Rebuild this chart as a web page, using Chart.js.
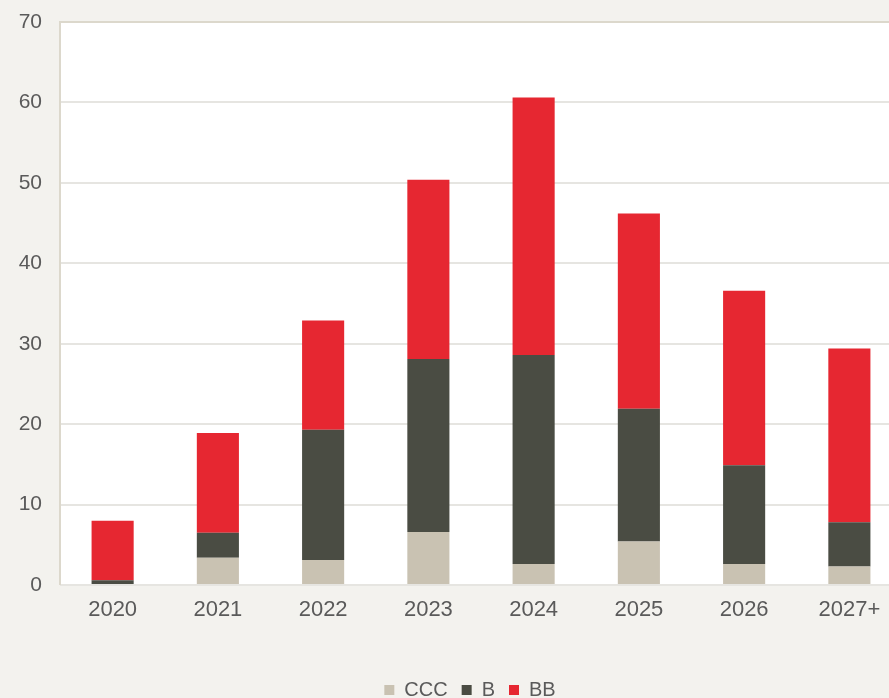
<!DOCTYPE html>
<html>
<head>
<meta charset="utf-8">
<script src="https://cdn.jsdelivr.net/npm/chart.js@4/dist/chart.umd.min.js"></script>
<style>
  html, body { margin: 0; padding: 0; background: #f3f2ee; overflow: hidden; }
  #wrap { width: 889px; height: 698px; overflow: hidden; position: relative; }
  #box { width: 940px; height: 698px; position: absolute; left: 0; top: 0; }
</style>
</head>
<body>
<div id="wrap"><div id="box"><canvas id="c"></canvas></div></div>
<script>
const categories = ['2020', '2021', '2022', '2023', '2024', '2025', '2026', '2027+'];
const cccValues = [0.0, 3.4, 3.1, 6.6, 2.6, 5.4, 2.6, 2.3];
const bValues   = [0.6, 3.1, 16.2, 21.5, 26.0, 16.5, 12.3, 5.5];
const bbValues  = [7.4, 12.4, 13.6, 22.3, 32.0, 24.3, 21.7, 21.6];
const yTicks = [0, 10, 20, 30, 40, 50, 60, 70];

const plotBg = {
  id: 'plotBg',
  afterLayout(chart) {
    const lg = chart.legend;
    if (lg) { lg.left += 19; lg.right += 19; lg.top += 12; lg.bottom += 12; }
  },
  beforeDraw(chart) {
    const { ctx, chartArea: a } = chart;
    ctx.save();
    ctx.fillStyle = '#f3f2ee';
    ctx.fillRect(0, 0, chart.width, chart.height);
    ctx.fillStyle = '#ffffff';
    ctx.fillRect(a.left, a.top, a.right - a.left, a.bottom - a.top);
    ctx.restore();
  },
  afterDatasetsDraw(chart) {
    const { ctx, chartArea: a } = chart;
    ctx.save();
    ctx.strokeStyle = '#dcd8cc';
    ctx.lineWidth = 2;
    ctx.beginPath();
    ctx.moveTo(a.left, a.bottom);
    ctx.lineTo(a.left, a.top);
    ctx.lineTo(a.right, a.top);
    ctx.stroke();
    ctx.restore();
  }
};

new Chart(document.getElementById('c'), {
  type: 'bar',
  data: {
    labels: categories,
    datasets: [
      { label: 'CCC', data: cccValues, backgroundColor: '#c9c2b2' },
      { label: 'B', data: bValues, backgroundColor: '#4a4c43' },
      { label: 'BB', data: bbValues, backgroundColor: '#e62731' }
    ]
  },
  options: {
    responsive: true,
    maintainAspectRatio: false,
    animation: false,
    layout: { padding: { left: 0, right: 38, top: 22, bottom: 0 } },
    datasets: { bar: { categoryPercentage: 1.0, barPercentage: 0.4 } },
    plugins: {
      legend: {
        position: 'bottom',
        labels: {
          boxWidth: 10, boxHeight: 10, padding: 14,
          color: '#5a5a5a',
          font: { family: 'Liberation Sans, Arial, sans-serif', size: 20 }
        }
      },
      tooltip: { enabled: false }
    },
    scales: {
      x: {
        stacked: true,
        grid: { display: false, drawTicks: false },
        border: { display: false },
        ticks: { color: '#5a5a5a', padding: 12, font: { family: 'Liberation Sans, Arial, sans-serif', size: 22 } },
        afterFit(s) { s.height = 69; }
      },
      y: {
        stacked: true,
        min: 0, max: 70,
        afterBuildTicks(s) { s.ticks = yTicks.map(v => ({ value: v })); },
        grid: { color: '#e6e5e1', lineWidth: 2, drawTicks: false },
        border: { display: false },
        ticks: { color: '#5a5a5a', padding: 18, font: { family: 'Liberation Sans, Arial, sans-serif', size: 21 } },
        afterFit(s) { s.width = 60; s.paddingTop = 0; s.paddingBottom = 0; }
      }
    }
  },
  plugins: [plotBg]
});
</script>
</body>
</html>
